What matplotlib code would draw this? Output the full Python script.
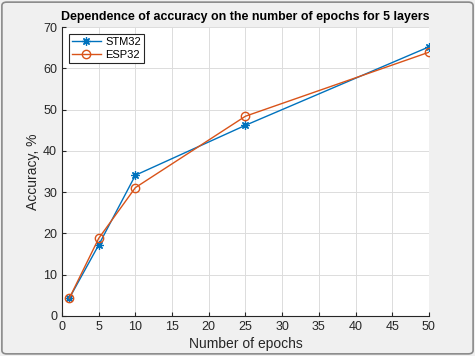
import matplotlib
matplotlib.use("Agg")
import matplotlib.pyplot as plt
from matplotlib.patches import FancyBboxPatch

plt.rcParams['font.family'] = ['Liberation Sans', 'DejaVu Sans']

epochs = [1, 5, 10, 25, 50]
stm32 = [4.3, 17.2, 34.1, 46.2, 65.2]
esp32 = [4.3, 18.8, 31.1, 48.4, 63.9]
xticks = list(range(0, 51, 5))
yticks = list(range(0, 71, 10))

fig = plt.figure(figsize=(4.75, 3.56), dpi=100)
fig.patch.set_facecolor('#f0f0f0')
frame = FancyBboxPatch((0.004, 0.006), 0.992, 0.988, boxstyle="round,pad=0,rounding_size=0.01",
                       transform=fig.transFigure, facecolor='none', edgecolor='#8a8a8a', linewidth=1.2)
fig.patches.append(frame)

ax = fig.add_axes([0.1305, 0.1124, 0.7725, 0.8116])
ax.set_facecolor('white')
ax.plot(epochs, stm32, color='#0072BD', marker=(8, 2, 0), markersize=6, markeredgewidth=0.9,
        linewidth=1.0, label='STM32')
ax.plot(epochs, esp32, color='#D95319', marker='o', markersize=6, markerfacecolor='none',
        linewidth=1.0, label='ESP32')

ax.set_xlim(0, 50)
ax.set_ylim(0, 70)
ax.set_xticks(xticks)
ax.set_yticks(yticks)
ax.grid(True, color='#dcdcdc', linewidth=0.7)
ax.set_axisbelow(True)
for s in ['top', 'right']:
    ax.spines[s].set_visible(False)
for s in ['left', 'bottom']:
    ax.spines[s].set_color('#262626')
    ax.spines[s].set_linewidth(0.8)
ax.tick_params(direction='in', length=3, labelsize=9, colors='#262626')
ax.set_xlabel('Number of epochs', fontsize=10, color='#262626', labelpad=3)
ax.set_ylabel('Accuracy, %', fontsize=10, color='#262626', labelpad=2)
ax.set_title('Dependence of accuracy on the number of epochs for 5 layers',
             fontsize=8.9, fontweight='bold', pad=5)
leg = ax.legend(loc='upper left', fontsize=8, fancybox=False, framealpha=1,
                edgecolor='#262626', borderaxespad=0.6, handlelength=2.6,
                labelspacing=0.25, borderpad=0.3, handletextpad=0.4)
leg.get_frame().set_linewidth(0.8)

fig.savefig('out.png', dpi=100, facecolor=fig.get_facecolor())
